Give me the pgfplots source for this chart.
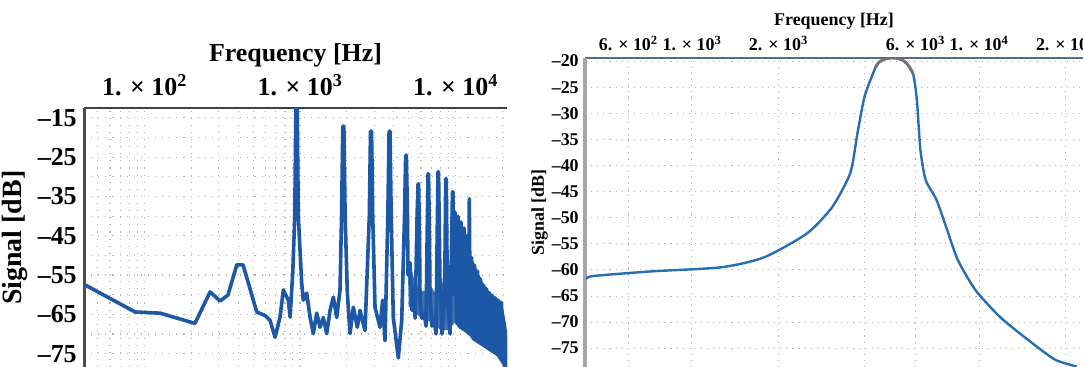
\documentclass[border=0pt]{standalone}
\usepackage{fontspec}
\setmainfont{Liberation Serif}
\usepackage{pgfplots}
\pgfplotsset{compat=1.18}
\usepackage{pgfplotstable}

\definecolor{lblue}{RGB}{28,88,165}
\definecolor{rblue}{RGB}{38,110,180}
\definecolor{gridgray}{RGB}{180,180,180}
\definecolor{rtop}{RGB}{85,110,135}

\pgfplotstableread{
f db
41.4 -57.5
86.9 -64.4
126 -64.7
211 -67.3
264 -59.3
306 -61.6
344 -60.1
392 -52.4
430 -52.4
527 -64.4
596 -65.3
641 -66.5
691 -70.8
744 -65.7
781 -58.8
841 -61.4
863 -65.7
898 -54.4
925 -40
941 -11
958 -11
975 -40
1025 -57
1050 -61.4
1104 -59.6
1160 -65.7
1218 -69.9
1281 -64.7
1345 -68.3
1412 -65.8
1485 -69.9
1560 -64
1638 -60.6
1722 -65.8
1808 -58.8
1850 -40
1885 -17.1
1915 -17.1
1950 -40
2015 -59.6
2097 -69.9
2202 -63.2
2336 -68.3
2432 -64
2618 -69.1
2790 -40
2840 -18.4
2885 -18.4
2935 -40
3036 -63.2
3270 -68.3
3400 -61.4
3521 -71.7
3670 -40
3740 -18.4
3790 -18.4
3860 -40
3981 -65.8
4288 -76.1
4508 -66.5
4700 -40
4780 -24.5
4830 -24.5
4910 -40
4950 -55
5099 -51.9
5252 -64
5353 -58
5500 -66
5660 -40
5740 -31.8
5790 -31.8
5870 -45
5913 -61.4
6091 -66
6275 -64.7
6463 -68
6570 -45
6660 -29.2
6710 -29.2
6800 -45
6858 -60.6
7065 -68
7277 -65.8
7496 -70
7620 -45
7720 -28.7
7780 -28.7
7880 -45
7955 -58
8194 -70
8441 -62
8560 -50
8650 -30.5
8720 -30.5
8816 -50
8956 -63.2
9226 -70
9454 -45
9560 -33.8
9630 -33.8
9760 -60
9926 -39
10149 -66
10377 -40
10610 -68
10848 -41.5
11092 -67
11341 -43
11596 -69
11856 -45
12122 -68
12268 -35.6
12451 -70
12673 -50.5
12958 -71
13249 -52.5
13546 -70
13850 -54
14161 -72
14479 -56
14804 -71
15137 -57.5
15477 -73
15825 -58.5
16180 -72
16543 -59.5
16915 -74
17295 -60.2
17683 -73
18080 -60.8
18486 -75
18901 -61.4
19326 -76
19760 -62
20204 -77
20657 -70
21121 -78
21440 -72
}\leftdata

% dense band of the noisy high-frequency part (upper edge, then lower edge back)
\pgfplotstableread{
f db
9926 -40
10850 -42
11600 -44.5
12000 -46
12450 -50
13250 -52.5
14480 -56
15140 -57.5
16540 -59.5
18080 -60.8
19760 -62
20660 -66
21440 -70
21440 -80
20000 -77.5
18500 -75.5
16900 -74.5
15500 -73.5
14160 -72.5
12960 -71.5
12450 -70.5
11600 -69.5
10600 -68.5
9926 -67
}\bandhigh

\pgfplotstableread{
f db
4950 -55
5100 -52
5500 -57
6000 -59
6500 -59
7000 -58
7500 -60
8000 -58
8500 -56
9000 -57
9500 -54
9926 -52
9926 -67
9000 -69
8000 -69
7000 -67
6000 -66
5000 -63
}\bandmid

\pgfplotstableread{
f db
431 -61.8
448 -61.2
714 -60.3
1262 -59.5
1782 -57.6
2516 -53
3085 -47.9
3562 -41.4
3774 -33.7
3998 -26.7
4359 -21.2
4483 -20.2
4704 -19.6
4960 -19.4
5223 -19.5
5489 -20
5703 -21
5898 -22.5
6071 -27.3
6249 -37
6521 -42.8
7112 -46.6
7753 -52.4
8450 -58.2
9761 -64
11930 -69.2
15060 -73.7
18410 -77.2
21870 -78.5
}\rightdata

\begin{document}
\begin{tikzpicture}[x=1bp,y=1bp]
\path[use as bounding box] (0,0) rectangle (1083,366);
% ---------------- left panel
\begin{axis}[
  at={(84bp,-1.4bp)}, anchor=south west,
  scale only axis, width=423bp, height=259.4bp,
  xmode=log, xmin=40.8, xmax=21440,
  ymin=-78.5, ymax=-12.5,
  axis x line=top, axis y line=left,
  x axis line style={-, draw=black!75, line width=2.2bp},
  y axis line style={-, draw=black!70, line width=3bp},
  tick style={draw=none},
  xtick={100,1000,10000},
  xticklabels={1. × 10\textsuperscript{2},1. × 10\textsuperscript{3},1. × 10\textsuperscript{4}},
  minor xtick={50,60,70,80,90,200,300,400,500,600,700,800,900,2000,3000,4000,5000,6000,7000,8000,9000,20000},
  ytick={-75,-65,-55,-45,-35,-25,-15},
  yticklabels={–75,–65,–55,–45,–35,–25,–15},
  minor ytick={-70,-60,-50,-40,-30,-20},
  xmajorgrids, xminorgrids, ymajorgrids, yminorgrids,
  major grid style={draw=gridgray, line width=1.1bp, dash pattern=on 1.1bp off 6bp},
  minor grid style={draw=gridgray, line width=1.1bp, dash pattern=on 1.1bp off 6bp},
  ticklabel style={font=\fontsize{26}{26}\selectfont\bfseries, inner sep=0pt},
  xticklabel shift=10bp, yticklabel shift=5bp,
  xlabel={Frequency [Hz]}, ylabel={Signal [dB]},
  xlabel style={font=\fontsize{26}{26}\selectfont\bfseries, inner sep=0pt,
    at={([yshift=41bp]axis description cs:0.5,1)}, anchor=south},
  ylabel style={font=\fontsize{28}{28}\selectfont\bfseries, inner sep=0pt,
    at={([xshift=-56bp]axis description cs:0,0.5)}, anchor=south},
]
\addplot[fill=lblue, draw=lblue, line width=1bp] table[x=f,y=db] {\bandhigh};
\addplot[fill=lblue!85!white, draw=none] table[x=f,y=db] {\bandmid};
\addplot[lblue, line width=3.6bp, line join=round] table[x=f,y=db] {\leftdata};
\end{axis}
% ---------------- right panel
\begin{axis}[
  at={(585bp,-1bp)}, anchor=south west,
  scale only axis, width=498bp, height=308.7bp,
  xmode=log, xmin=424, xmax=23030,
  ymin=-78.6, ymax=-19.46,
  axis x line=top, axis y line=left,
  x axis line style={-, draw=rtop, line width=2bp},
  y axis line style={-, draw=black!35, line width=4bp},
  tick style={draw=none},
  xtick={600,1000,2000,6000,10000,20000},
  xticklabels={6. × 10\textsuperscript{2},1. × 10\textsuperscript{3},2. × 10\textsuperscript{3},6. × 10\textsuperscript{3},1. × 10\textsuperscript{4},2. × 10\textsuperscript{4}},
  minor xtick={4000},
  ytick={-75,-70,-65,-60,-55,-50,-45,-40,-35,-30,-25,-20},
  yticklabels={–75,–70,–65,–60,–55,–50,–45,–40,–35,–30,–25,–20},
  xmajorgrids, xminorgrids, ymajorgrids,
  major grid style={draw=gridgray, line width=1bp, dash pattern=on 1.1bp off 5bp},
  minor grid style={draw=gridgray, line width=1bp, dash pattern=on 1.1bp off 5bp},
  ticklabel style={font=\fontsize{18}{18}\selectfont\bfseries, inner sep=0pt},
  xticklabel shift=5bp, yticklabel shift=4bp,
  xlabel={Frequency [Hz]}, ylabel={Signal [dB]},
  xlabel style={font=\fontsize{18}{18}\selectfont\bfseries, inner sep=0pt,
    at={([yshift=29bp]axis description cs:0.5,1)}, anchor=south},
  ylabel style={font=\fontsize{18}{18}\selectfont\bfseries, inner sep=0pt,
    at={([xshift=-37bp]axis description cs:0,0.5)}, anchor=south},
]
\addplot[rblue, line width=2.4bp, line join=round, smooth, tension=0.4] table[x=f,y=db] {\rightdata};
\addplot[black!55, line width=2.8bp, line join=round, smooth, tension=0.4, restrict y to domain=-23:0] table[x=f,y=db] {\rightdata};
\end{axis}
\end{tikzpicture}
\end{document}
